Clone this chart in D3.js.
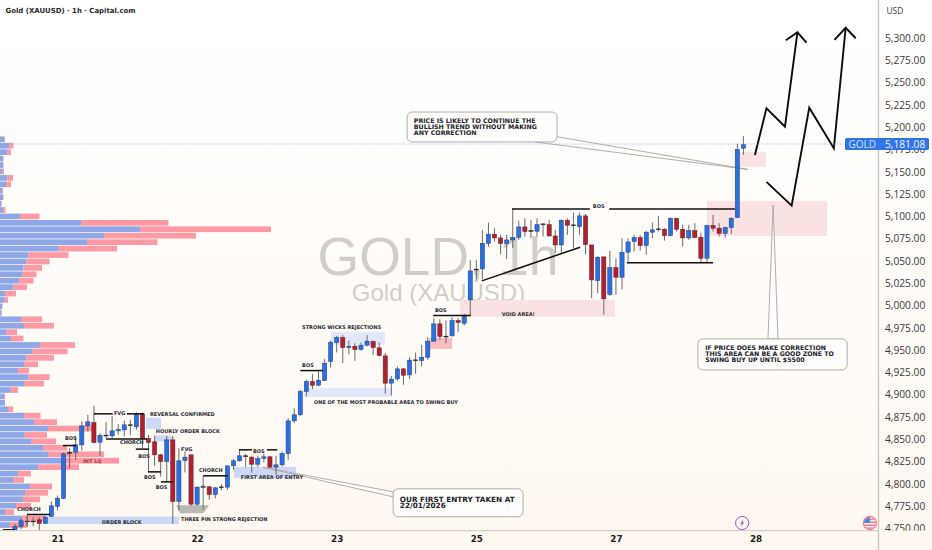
<!DOCTYPE html>
<html>
<head>
<meta charset="utf-8">
<style>
  html, body { margin: 0; padding: 0; background: #fff; }
  svg { display: block; }
  text { font-family: "DejaVu Sans", sans-serif; }
</style>
</head>
<body>
<svg width="932" height="550"></svg>
<script src="https://cdn.jsdelivr.net/npm/d3@7"></script>
<script>
// hourly candles, index 0 is the first bar on screen
const opens = [
  4747.7,4752.2,4757.4,4757.4,4759.6,4755.5,4763.4,4774.6,4783.6,4834.4,
  4835.5,4843.7,4865,4868.8,4846.7,4853.8,4853.8,4859.4,4860.5,4865.4,
  4863.9,4878.5,4850.8,4847.1,4832.5,4825,4849.3,4780.2,4826.2,4832.5,
  4777.2,4796.3,4796.6,4788,4795.9,4796.3,4820.2,4825.8,4830.6,4829.9,
  4822,4828.4,4830.3,4818.7,4821.3,4834,4870.6,4877.4,4903.5,4914.7,
  4910.6,4915.9,4937.2,4958.5,4964.1,4952.9,4954.4,4950.6,4955.5,4959.6,
  4952.5,4943.5,4912.9,4917.7,4928.9,4922.2,4938.3,4938.3,4942,4960,
  4979.4,4964.8,4965.9,4983.1,4980.1,5006.3,5040,5041,5069.8,5079.9,
  5075.8,5069.4,5073.5,5076.5,5088.1,5083.3,5083.3,5090.7,5090.7,5078,
  5067.9,5095.6,5089.6,5088.5,5100.5,5067.9,5028,5054.5,5012.3,5042.5,
  5031.7,5059.8,5071.7,5076.2,5067.2,5082.2,5085.2,5085.5,5078.4,5097.9,
  5085.5,5075.8,5084,5076.6,5053,5089.7,5086.7,5080.7,5087.4,5098.6,5176.4
];
const highs = [
  4755.2,4761.5,4763.4,4762.6,4762.6,4764,4780.2,4786.9,4835.1,4840,
  4853.1,4869.9,4877.4,4887.5,4856.8,4869.1,4876.2,4866.9,4871,4871.8,
  4880,4880,4855,4853.8,4833.6,4853.8,4853.8,4840,4836.3,4832.5,
  4797,4798.9,4797.8,4796.3,4799.6,4820.2,4827.7,4838.1,4833.6,4831.4,
  4831.4,4833.6,4831.4,4831.4,4836.3,4873.6,4884.8,4905.4,4916.6,4923.3,
  4926,4939.8,4960.7,4965.9,4966.7,4960.7,4957.7,4958.5,4966.7,4960.7,
  4958.5,4946.5,4921.1,4931.6,4929.7,4942,4947.3,4955.8,4964.4,4985.7,
  4984.6,4983.1,4986.9,4985.7,4990.6,5051.1,5051.1,5084.8,5093,5086.6,
  5079.2,5079.2,5109,5095.2,5097.8,5096,5097.8,5092.2,5096,5084.8,
  5096.7,5097.8,5104.2,5104.2,5102.7,5067.9,5055.6,5054.9,5061.2,5053,
  5075.4,5075.4,5079.2,5079.2,5083.7,5093,5100.5,5086.7,5098.6,5097.9,
  5090.4,5090.4,5092.3,5081.8,5090.4,5101.6,5092.3,5088.5,5099,5181.2,5190.2
];
const lows = [
  4747.7,4749.2,4752.2,4752.2,4747.7,4755.2,4763.4,4770.1,4782.8,4817.6,
  4826.9,4837.4,4858.7,4845.6,4831.4,4851.2,4851.2,4854.9,4853.1,4854.9,
  4860.5,4840,4813.8,4820.2,4808.2,4802.6,4755.2,4770.1,4812.7,4775.3,
  4775.3,4795.1,4782.1,4783.6,4792.5,4793.3,4815.7,4825,4818.7,4812.7,
  4818.7,4823.9,4818,4810.1,4819.4,4826.9,4868,4876.2,4897.9,4906.2,
  4909.9,4915.5,4930.4,4947.3,4935.3,4945.4,4937.9,4949.5,4954,4944.6,
  4942.8,4900.9,4899,4915.5,4911,4917.7,4923.3,4931.6,4939,4959.6,
  4961.5,4957.7,4965.2,4970,4977.5,4989.5,5029.4,5029.4,5066.1,5071.7,
  5057.5,5052.2,5064.2,5073.5,5077.3,5075.4,5077.3,5077.3,5077.3,5058.6,
  5058.6,5079.2,5064.2,5079.2,5057.5,5008.1,5013.8,4989.5,5010.8,5011.9,
  5018.2,5049.3,5060.5,5061.6,5056.8,5075.4,5082.9,5072.8,5077.3,5082.9,
  5066.1,5073.6,5075.4,5047.4,5047.4,5082.9,5077.3,5076.2,5080.3,5097.9,5168.9
];
const closes = [
  4752.2,4758.5,4758.2,4758.2,4755.5,4762.6,4775.3,4783.9,4833.6,4835.1,
  4843.7,4865,4869.5,4846.3,4854.2,4854.6,4859.4,4860.9,4866.2,4866.2,
  4877.7,4850.8,4846.3,4832.5,4825,4849.3,4780.2,4825.8,4829.9,4777.2,
  4796.3,4797,4788,4795.5,4796.6,4820.2,4825.8,4831.4,4831.4,4822,
  4828.4,4830.3,4818.7,4821.3,4834,4870.6,4877.4,4903.5,4914.7,4910.6,
  4916.2,4935.3,4958.5,4964.1,4952.9,4954.4,4950.6,4955.5,4960,4952.9,
  4943.9,4912.9,4917.4,4928.9,4921.8,4938.7,4939,4942,4960,4979.4,
  4965.2,4965.6,4983.1,4980.9,4987.6,5038.8,5040.8,5069.8,5079.9,5075.8,
  5069.4,5073.5,5076.5,5088.1,5082.9,5084,5090.7,5091.5,5078,5067.9,
  5095.6,5090,5090.4,5100.5,5068.3,5028.7,5054.1,5007.4,5042.5,5031.7,
  5059.7,5071.3,5076.2,5067.2,5082.2,5084.8,5085.9,5078.4,5097.9,5085.5,
  5075.8,5084,5076.2,5053,5089.7,5086.7,5080.7,5087.4,5097.9,5175.2,5180.5
];

// volume profile rows on the left
const profilePrices = [
  5186.4,5179.2,5172,5164.8,5157.6,5150.4,5143.1,5135.9,5128.7,5121.5,
  5114.3,5107.1,5099.9,5092.7,5085.5,5078.3,5071,5063.8,5056.6,5049.4,
  5042.2,5035,5027.8,5020.6,5013.4,5006.2,4999,4991.7,4984.5,4977.3,
  4970.1,4962.9,4955.7,4948.5,4941.3,4934.1,4926.9,4919.7,4912.4,4905.2,
  4898,4890.8,4883.6,4876.4,4869.2,4862,4854.8,4847.6,4840.4,4833.1,
  4825.9,4818.7,4811.5,4804.3,4797.1,4789.9,4782.7,4775.5,4768.3,4761.1,4753.8
];
const buyVolume = [
  4,9,7,3,3,2,7.5,6,2,3,1.5,3,20,81,140,104,87,58,28.5,26.5,
  23.5,22,19,13.5,5,4,2,1.5,21,24,6,11,40,32,26.5,24,18,28.5,24,10,
  4,5,8,24,34,48,24,31,43,48,62,38,18,13,30,25,23,16,5,22,10
];
const sellVolume = [
  1,4.5,4,0.5,0.5,2,5.5,5,1,0.5,0.5,2.5,19.5,87.5,131,92,70.5,59,40,23,
  18.5,14.5,14.5,13.5,11,4,0.5,0.5,21,30,11,12.5,35,35.5,27.5,14,11,21,20,8,
  1,0,5,16.5,23,48,23,25,24,56,57,41,13,11,22,23,17,15,9,23,17
];

const priceTicks = [
  5300,5275,5250,5225,5200,5175,5150,5125,5100,5075,5050,5025,5000,
  4975,4950,4925,4900,4875,4850,4825,4800,4775,4750
];
const dayIndexes = [7, 30, 53, 76, 99, 122];
const dayLabels = ["21", "22", "23", "25", "27", "28"];
const lastPrice = 5181.08;

// drawings, all anchored as [bar index, price] like on the real chart
const zones = [
  { kind: "blue", i0: 5.3, i1: 27, top: 4763.3, bottom: 4754.8 },
  { kind: "blue", i0: 21.6, i1: 24.05, top: 4874, bottom: 4861.7 },
  { kind: "blue", i0: 23.06, i1: 26.03, top: 4854.1, bottom: 4847.4 },
  { kind: "blue", i0: 36.08, i1: 46.3, top: 4819, bottom: 4806.7 },
  { kind: "paleBlue", i0: 52.06, i1: 60.96, top: 4970.4, bottom: 4955.8 },
  { kind: "paleBlue", i0: 47.6, i1: 62.1, top: 4907.6, bottom: 4897.5 },
  { kind: "red", i0: 68.2, i1: 72, top: 4963.7, bottom: 4951.3 },
  { kind: "pink", i0: 73.3, i1: 98.85, top: 5006.3, bottom: 4987.2 },
  { kind: "pink", i0: 119.3, i1: 123.7, top: 5172.2, bottom: 5155.4 },
  { kind: "pink", i0: 114, i1: 133.8, top: 5117.3, bottom: 5078 },
];
const rejectionShape = [[26.55, 4776], [32, 4776], [31, 4767], [27.2, 4767]];

const structureLines = [
  [[-2, 4748.4], [0, 4748.4]],
  [[2, 4765.6], [5.8, 4765.6]],
  [[7.9, 4842.9], [10.05, 4842.9]],
  [[13, 4878.5], [16.1, 4878.5]],
  [[18.45, 4878.5], [21.25, 4878.5]],
  [[15, 4850.4], [21.75, 4850.4]],
  [[19.9, 4838.9], [22.1, 4838.9]],
  [[21.9, 4813.4], [24.05, 4813.4]],
  [[24.05, 4802.2], [26.03, 4802.2]],
  [[31, 4809], [35.1, 4809]],
  [[36.9, 4838.1], [39.05, 4838.1]],
  [[41.5, 4838.1], [43.2, 4838.1]],
  [[47, 4927], [50.7, 4927]],
  [[68.9, 4988.7], [75.1, 4988.7]],
  [[81.9, 5108.3], [94.7, 5108.3]],
  [[97.9, 5108.3], [118.6, 5108.3]],
  [[76.9, 5027.6], [93.1, 5065.4]],
  [[100.8, 5047.8], [115, 5047.8]],
];
const thinLines = [
  [[2, 4765.6], [2, 4752]],
  [[31, 4809], [31, 4771]],
];
const arrows = [
  [[121.9, 5168.8], [123.8, 5221.2], [126.85, 5200.6], [128.9, 5306.4]],
  [[127, 5297.4], [128.9, 5306.4], [130.4, 5294.7]],
  [[123.8, 5138.6], [127.95, 5112], [130.85, 5221.9], [134.9, 5176.3], [136.85, 5311.5]],
  [[135, 5297.8], [136.85, 5311.5], [138.5, 5299.7]],
];
const labels = [
  ["REVERSAL CONFIRMED", 22.24, 4876.2],
  ["HOURLY ORDER BLOCK", 23.2, 4857.2],
  ["THREE PIN STRONG REJECTION", 27.35, 4758.8],
  ["ORDER BLOCK", 14.3, 4754.4],
  ["FIRST AREA OF ENTRY", 37.2, 4805.6],
  ["CHORCH", 0.33, 4769.7],
  ["BOS", 8.24, 4849.3],
  ["FVG", 16.3, 4877.3],
  ["CHORCH", 17.3, 4844.8],
  ["BOS", 20.3, 4829.5],
  ["BOS", 21.25, 4805.6],
  ["BOS", 23.2, 4794.4],
  ["FVG", 27.35, 4837],
  ["CHORCH", 30.3, 4813.8],
  ["BOS", 39.2, 4834.7],
  ["BOS", 47.3, 4931.2],
  ["STRONG WICKS REJECTIONS", 47.3, 4973.8],
  ["ONE OF THE MOST PROBABLE AREA TO SWING BUY", 49.26, 4890],
  ["BOS", 69.2, 4992.8],
  ["BOS", 95.2, 5109.7],
  ["VOID AREA!", 80.2, 4988.3],
];
const callouts = [
  {
    i0: 64.6, i1: 89.3, top: 5217, bottom: 5183.4, size: 6.3,
    tail: [[89.24, 5189.3], [120.75, 5152.6], [85.67, 5183.4]],
    textIndex: 65.7,
    lines: [
      ["PRICE IS LIKELY TO CONTINUE THE", 5205],
      ["BULLISH TREND WITHOUT MAKING", 5198.1],
      ["ANY CORRECTION", 5191.3],
    ],
  },
  {
    i0: 112.5, i1: 137.1, top: 4962.5, bottom: 4927.8, size: 6.25,
    tail: [[124.05, 4962.5], [124.9, 5112.8], [125.7, 4962.5]],
    textIndex: 113.7,
    lines: [
      ["IF PRICE DOES MAKE CORRECTION", 4950.2],
      ["THIS AREA CAN BE A GOOD ZONE TO", 4943.5],
      ["SWING BUY UP UNTIL $5500", 4936.2],
    ],
  },
  {
    i0: 62.3, i1: 83.7, top: 4794.4, bottom: 4763, size: 7.3,
    tail: [[62.35, 4791], [40.9, 4818.5], [62.3, 4785.4]],
    textIndex: 63.4,
    lines: [
      ["OUR FIRST ENTRY TAKEN AT", 4780.1],
      ["22/01/2026", 4772.5],
    ],
  },
];

const zoneColors = { blue: "#c9d5f6", paleBlue: "#dee6f8", red: "#f8b6bc", pink: "#fbdfe0" };

const svg = d3.select("svg");
const width = +svg.attr("width");
const height = +svg.attr("height");
const axisX = 878.5;
const axisY = 530.7;

const xScale = d3.scaleLinear().domain([0, 120]).range([15, 743.4]);
const yScale = d3.scaleLinear().domain([4750, 5300]).range([528.4, 38]);
const volumeScale = d3.scaleLinear().domain([0, 271]).range([0, 271]);
const lineGen = d3.line().x((d) => xScale(d[0])).y((d) => yScale(d[1]));

function drawBackground() {
  const grad = svg.append("defs").append("linearGradient")
    .attr("id", "bg").attr("x1", 0).attr("y1", 0).attr("x2", 0).attr("y2", 1);
  grad.append("stop").attr("offset", "0%").attr("stop-color", "#ffffff");
  grad.append("stop").attr("offset", "45%").attr("stop-color", "#fffcf9");
  grad.append("stop").attr("offset", "100%").attr("stop-color", "#fef8f0");
  svg.append("rect").attr("width", width).attr("height", height).attr("fill", "url(#bg)");
}

function drawWatermark() {
  const g = svg.append("g").attr("fill", "#cfcec9");
  g.append("text").attr("x", 438).attr("y", 275).attr("text-anchor", "middle")
    .attr("font-size", 53.5).style("font-family", '"Liberation Sans", sans-serif').text("GOLD, 1h");
  g.append("text").attr("x", 438.5).attr("y", 301).attr("text-anchor", "middle")
    .attr("font-size", 24).style("font-family", '"Liberation Sans", sans-serif').text("Gold (XAUUSD)");
}

function drawProfile() {
  const rowHeight = 5.7;
  const g = svg.append("g").attr("class", "profile");
  g.selectAll(".buy").data(profilePrices).enter().append("rect")
    .attr("x", 0)
    .attr("y", (d) => yScale(d) - rowHeight / 2)
    .attr("width", (d, i) => volumeScale(buyVolume[i]))
    .attr("height", rowHeight)
    .attr("fill", "#8ea7e6");
  g.selectAll(".sell").data(profilePrices).enter().append("rect")
    .attr("x", (d, i) => volumeScale(buyVolume[i]))
    .attr("y", (d) => yScale(d) - rowHeight / 2)
    .attr("width", (d, i) => volumeScale(sellVolume[i]))
    .attr("height", rowHeight)
    .attr("fill", "#fd9aa3");
}

function drawZones() {
  svg.append("g").selectAll("rect").data(zones).enter().append("rect")
    .attr("x", (d) => xScale(d.i0))
    .attr("y", (d) => yScale(d.top))
    .attr("width", (d) => xScale(d.i1) - xScale(d.i0))
    .attr("height", (d) => yScale(d.bottom) - yScale(d.top))
    .attr("fill", (d) => zoneColors[d.kind])
    .attr("fill-opacity", 0.92);
  svg.append("path").attr("d", lineGen(rejectionShape) + "Z").attr("fill", "#b9b8b3");
}

function drawCallouts() {
  const g = svg.append("g");
  callouts.forEach((c) => {
    g.append("path").attr("d", lineGen(c.tail) + "Z")
      .attr("fill", "#fffdfb").attr("stroke", "#a5a5a1").attr("stroke-width", 0.9);
    g.append("rect")
      .attr("x", xScale(c.i0)).attr("y", yScale(c.top))
      .attr("width", xScale(c.i1) - xScale(c.i0))
      .attr("height", yScale(c.bottom) - yScale(c.top))
      .attr("rx", 5)
      .attr("fill", "#fffdfb").attr("stroke", "#a5a5a1").attr("stroke-width", 0.9);
  });
}

function drawCalloutText() {
  const g = svg.append("g").attr("fill", "#22222c").attr("font-weight", "bold");
  callouts.forEach((c) => {
    c.lines.forEach((line) => {
      g.append("text").attr("x", xScale(c.textIndex)).attr("y", yScale(line[1]))
        .attr("font-size", c.size).text(line[0]);
    });
  });
}

function drawCandles() {
  const bars = d3.range(opens.length);
  const g = svg.append("g").attr("class", "candles");
  const bodyWidth = 4.2;
  const isDoji = (i) => Math.abs(opens[i] - closes[i]) < 1.2;

  g.selectAll(".wick").data(bars).enter().append("line")
    .attr("x1", (i) => xScale(i)).attr("x2", (i) => xScale(i))
    .attr("y1", (i) => yScale(highs[i])).attr("y2", (i) => yScale(lows[i]))
    .attr("stroke", "#5a5a5a").attr("stroke-width", 0.9);

  g.selectAll(".body").data(bars).enter().append("rect")
    .attr("x", (i) => xScale(i) - bodyWidth / 2)
    .attr("y", (i) => yScale(Math.max(opens[i], closes[i])))
    .attr("width", bodyWidth)
    .attr("height", (i) => Math.max(0.8, yScale(Math.min(opens[i], closes[i])) - yScale(Math.max(opens[i], closes[i]))))
    .attr("fill", (i) => (isDoji(i) ? "#222" : closes[i] > opens[i] ? "#2b6fe0" : "#ad2231"))
    .attr("stroke", (i) => (isDoji(i) ? "#222" : closes[i] > opens[i] ? "#1d3f85" : "#6b1a24"))
    .attr("stroke-width", 0.5);
}

function drawLines() {
  const g = svg.append("g").attr("fill", "none");
  g.selectAll(".thin").data(thinLines).enter().append("path")
    .attr("d", lineGen).attr("stroke", "#6a6a6a").attr("stroke-width", 0.9);
  g.selectAll(".struct").data(structureLines).enter().append("path")
    .attr("d", lineGen).attr("stroke", "#111").attr("stroke-width", 1.5);
  g.selectAll(".arrow").data(arrows).enter().append("path")
    .attr("d", lineGen).attr("stroke", "#0c0c0c").attr("stroke-width", 1.9)
    .attr("stroke-linejoin", "miter");
}

function drawLabels() {
  const g = svg.append("g").attr("font-weight", "bold").attr("font-size", 5);
  g.selectAll("text").data(labels).enter().append("text")
    .attr("x", (d) => xScale(d[1]))
    .attr("y", (d) => yScale(d[2]))
    .attr("fill", "#2a2a33")
    .text((d) => d[0]);
  g.append("text")
    .attr("x", xScale(11.2)).attr("y", yScale(4823.5))
    .attr("fill", "#a8404e")
    .text("INT LQ");
}

function drawAxes() {
  // price scale, 4,750 is cut by the time axis strip
  const priceAxis = d3.axisRight(yScale).tickValues(priceTicks).tickSize(0).tickPadding(6.5)
    .tickFormat(d3.format(",.2f"));
  const py = svg.append("g").attr("transform", `translate(${axisX},0)`).call(priceAxis);
  py.select(".domain").remove();
  py.selectAll("text").attr("font-size", 10.2).attr("fill", "#3a3a3a")
    .style("font-family", '"Open Sans", sans-serif');

  svg.append("rect").attr("x", 0).attr("y", axisY).attr("width", width).attr("height", height - axisY)
    .attr("fill", "#fef8f0");

  const timeAxis = d3.axisBottom(xScale).tickValues(dayIndexes).tickSize(0).tickPadding(5.5)
    .tickFormat((d, i) => dayLabels[i]);
  const tx = svg.append("g").attr("transform", `translate(0,${axisY})`).call(timeAxis);
  tx.select(".domain").remove();
  tx.selectAll("text").attr("font-size", 8.8).attr("font-weight", "bold").attr("fill", "#1c1c1c")
    .style("font-family", '"DejaVu Sans", sans-serif');

  svg.append("line").attr("x1", 0).attr("x2", axisX).attr("y1", axisY).attr("y2", axisY)
    .attr("stroke", "#d2cfc8").attr("stroke-width", 1.3);
  svg.append("line").attr("x1", axisX).attr("x2", axisX).attr("y1", 0).attr("y2", height)
    .attr("stroke", "#c6c4bf").attr("stroke-width", 1.3);

  svg.append("text").attr("x", 886.5).attr("y", 13.5).attr("font-size", 8.4).attr("fill", "#3a3a3a")
    .style("font-family", '"Open Sans", sans-serif').text("USD");
}

function drawLastPrice() {
  const y = yScale(lastPrice);
  svg.append("line").attr("x1", 0).attr("x2", 845).attr("y1", y).attr("y2", y)
    .attr("stroke", "#8f9be0").attr("stroke-width", 0.8).attr("stroke-dasharray", "1 1.6");
  svg.append("rect").attr("x", 845).attr("y", y - 6).attr("width", 84).attr("height", 12)
    .attr("rx", 1.5).attr("fill", "#2f75e9");
  const g = svg.append("g");
  g.append("text").attr("x", 848.5).attr("y", y + 3.6).attr("font-size", 10)
    .attr("fill", "#cfe0fb").style("font-family", '"Open Sans", sans-serif').text("GOLD");
  g.append("text").attr("x", 885).attr("y", y + 3.6).attr("font-size", 10.2)
    .attr("fill", "#f2f6fe").style("font-family", '"Open Sans", sans-serif').text(d3.format(",.2f")(lastPrice));
}

function drawTitle() {
  svg.append("text").attr("x", 5.5).attr("y", 12.5).attr("font-size", 6.95).attr("font-weight", "bold")
    .attr("fill", "#26262c").text("Gold (XAUUSD) · 1h · Capital.com");
}

function drawEventIcons() {
  const iconY = 523;
  const bolt = svg.append("g").attr("transform", `translate(${xScale(119.8)},${iconY})`);
  bolt.append("circle").attr("r", 6.6).attr("fill", "#fdf8f4").attr("stroke", "#9c4fc4").attr("stroke-width", 1);
  bolt.append("path").attr("d", "M1.6,-4L-2,0.6H-0.2L-1.4,4L2,-0.8H0.2Z").attr("fill", "#9c4fc4");

  const clip = svg.select("defs").append("clipPath").attr("id", "flagClip");
  clip.append("circle").attr("r", 6);
  const flag = svg.append("g").attr("transform", `translate(${xScale(140.85)},${iconY})`);
  const inner = flag.append("g").attr("clip-path", "url(#flagClip)");
  inner.append("rect").attr("x", -7).attr("y", -7).attr("width", 14).attr("height", 14).attr("fill", "#fbeeee");
  [-4.5, -1.5, 1.5, 4.5].forEach((s) => {
    inner.append("rect").attr("x", -7).attr("y", s).attr("width", 14).attr("height", 1.4).attr("fill", "#f0788c");
  });
  inner.append("rect").attr("x", -7).attr("y", -7).attr("width", 7).attr("height", 7).attr("fill", "#4f86de");
  flag.append("circle").attr("r", 6.6).attr("fill", "none").attr("stroke", "#f0788c").attr("stroke-width", 1.2);
}

drawBackground();
drawWatermark();
drawProfile();
drawZones();
drawCallouts();
drawCandles();
drawLines();
drawLabels();
drawCalloutText();
drawAxes();
drawLastPrice();
drawTitle();
drawEventIcons();
</script>
</body>
</html>
